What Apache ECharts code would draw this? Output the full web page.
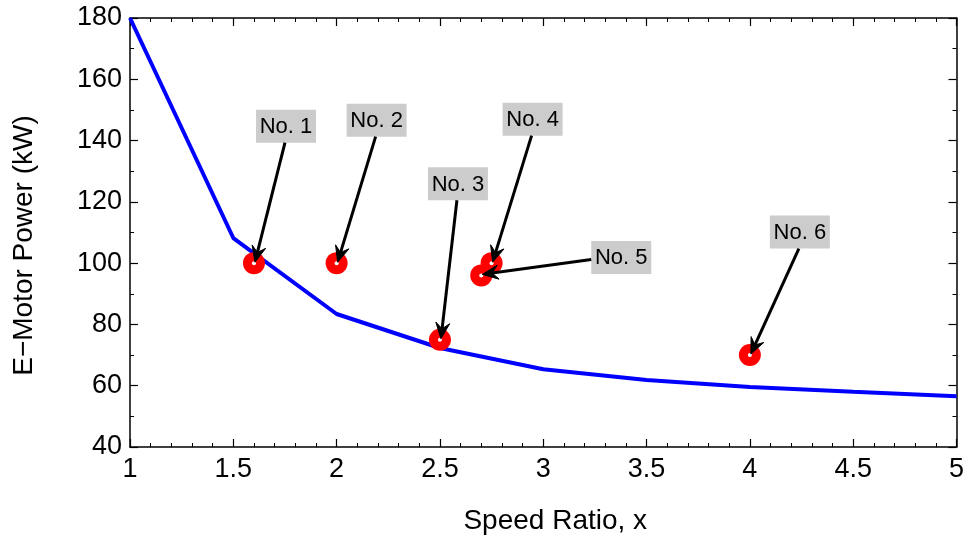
<!DOCTYPE html>
<html>
<head>
<meta charset="utf-8">
<script src="https://cdn.jsdelivr.net/npm/echarts@6/dist/echarts.min.js"></script>
<style>
html,body{margin:0;padding:0;background:#fff;}
#chart{width:967px;height:542px;}
</style>
</head>
<body>
<div id="chart"></div>
<script>
// Curve data
var speedRatio = [1, 1.5, 2, 2.5, 3, 3.5, 4, 4.5, 5];
var motorPower = [180, 108.2, 83.4, 72.3, 65.4, 61.9, 59.6, 58.0, 56.6];

// Design points
var pointNames = ['No. 1', 'No. 2', 'No. 3', 'No. 4', 'No. 5', 'No. 6'];
var pointX = [1.6, 2.0, 2.5, 2.75, 2.7, 4.0];
var pointY = [100, 100, 75, 100, 96, 70];

// Axis ticks
var xTicks = [1, 1.5, 2, 2.5, 3, 3.5, 4, 4.5, 5];
var yTicks = [40, 60, 80, 100, 120, 140, 160, 180];

// Annotation layout (pixel offsets of label centre from point; arrow side)
var labelLayout = [
  {dx: 32, dy: -137, from: 'bottom'},
  {dx: 40, dy: -143, from: 'bottom'},
  {dx: 18, dy: -156, from: 'bottom'},
  {dx: 41, dy: -144, from: 'bottom'},
  {dx: 140, dy: -18, from: 'left'},
  {dx: 50, dy: -123, from: 'bottom'}
];

var FONT = 'Liberation Sans, Arial, Helvetica, sans-serif';
var chart = echarts.init(document.getElementById('chart'), null, {renderer: 'canvas'});

var curve = speedRatio.map(function (x, i) { return [x, motorPower[i]]; });
var pts = pointX.map(function (x, i) { return [x, pointY[i]]; });

var axisLineStyle = {show: true, onZero: false, lineStyle: {color: '#000', width: 1.5}};
var tickStyle = {show: true, inside: true, length: 8, lineStyle: {color: '#000', width: 1.2}};
var minorStyle = {show: true, length: 4, lineStyle: {color: '#000', width: 1}};

var option = {
  animation: false,
  backgroundColor: '#fff',
  grid: {left: 130, right: 10, top: 18, bottom: 95, containLabel: false},
  xAxis: [{
    type: 'value', min: xTicks[0], max: xTicks[xTicks.length - 1], interval: 0.5,
    position: 'bottom',
    axisLine: axisLineStyle, axisTick: tickStyle,
    minorTick: Object.assign({splitNumber: 5}, minorStyle),
    splitLine: {show: false},
    axisLabel: {color: '#000', fontSize: 27, fontFamily: FONT, margin: 9},
    name: 'Speed Ratio, x', nameLocation: 'middle', nameGap: 60,
    nameTextStyle: {color: '#000', fontSize: 28, fontFamily: FONT, padding: [0, 0, 0, 24]}
  }, {
    type: 'value', min: xTicks[0], max: xTicks[xTicks.length - 1], interval: 0.5,
    position: 'top',
    axisLine: axisLineStyle, axisTick: tickStyle,
    minorTick: Object.assign({splitNumber: 5}, minorStyle),
    splitLine: {show: false}, axisLabel: {show: false}
  }],
  yAxis: [{
    type: 'value', min: yTicks[0], max: yTicks[yTicks.length - 1], interval: 20,
    position: 'left',
    axisLine: axisLineStyle, axisTick: tickStyle,
    minorTick: Object.assign({splitNumber: 2}, minorStyle),
    splitLine: {show: false},
    axisLabel: {color: '#000', fontSize: 27, fontFamily: FONT, margin: 8},
    name: 'E\u2212Motor Power (kW)', nameLocation: 'middle', nameGap: 92,
    nameTextStyle: {color: '#000', fontSize: 28, fontFamily: FONT, padding: [0, 26, 0, 0]}
  }, {
    type: 'value', min: yTicks[0], max: yTicks[yTicks.length - 1], interval: 20,
    position: 'right',
    axisLine: axisLineStyle, axisTick: tickStyle,
    minorTick: Object.assign({splitNumber: 2}, minorStyle),
    splitLine: {show: false}, axisLabel: {show: false}
  }],
  series: [{
    type: 'line', data: curve, xAxisIndex: 0, yAxisIndex: 0,
    showSymbol: false, symbol: 'none',
    lineStyle: {color: '#0000ff', width: 4}, z: 2
  }, {
    type: 'scatter', data: pts, xAxisIndex: 0, yAxisIndex: 0,
    symbol: 'circle', symbolSize: 22,
    itemStyle: {color: '#ff0000', opacity: 1}, z: 3
  }, {
    type: 'scatter', data: pts, xAxisIndex: 0, yAxisIndex: 0,
    symbol: 'circle', symbolSize: 4,
    itemStyle: {color: '#ffffff', opacity: 1}, z: 4, silent: true
  }]
};
chart.setOption(option);

// Annotations: labels with grey boxes and arrows pointing to the points
var graphics = [];
var BOX_W = 60, BOX_H = 33;
pts.forEach(function (p, i) {
  var px = chart.convertToPixel({xAxisIndex: 0, yAxisIndex: 0}, p);
  var L = labelLayout[i];
  var cx = px[0] + L.dx, cy = px[1] + L.dy;
  graphics.push({
    type: 'rect', z: 10,
    shape: {x: cx - BOX_W / 2, y: cy - BOX_H / 2, width: BOX_W, height: BOX_H},
    style: {fill: '#cccccc'}
  });
  graphics.push({
    type: 'text', z: 11, x: cx, y: cy + 1,
    style: {text: pointNames[i], fill: '#000', font: '22px ' + FONT, align: 'center', verticalAlign: 'middle'}
  });
  var sx, sy;
  if (L.from === 'left') { sx = cx - BOX_W / 2; sy = cy + 2; }
  else { sx = cx - 1; sy = cy + BOX_H / 2; }
  var tx = px[0] + 1, ty = px[1] - 1;
  var ang = Math.atan2(ty - sy, tx - sx);
  var len = 16, hw = 7, notch = 10;
  var ux = Math.cos(ang), uy = Math.sin(ang), nx = -uy, ny = ux;
  var bx = tx - ux * len, by = ty - uy * len;
  var mx = tx - ux * notch, my = ty - uy * notch;
  graphics.push({
    type: 'line', z: 12,
    shape: {x1: sx, y1: sy, x2: mx, y2: my},
    style: {stroke: '#000', lineWidth: 3}
  });
  graphics.push({
    type: 'polygon', z: 12,
    shape: {points: [[tx, ty], [bx + nx * hw, by + ny * hw], [mx, my], [bx - nx * hw, by - ny * hw]]},
    style: {fill: '#000', stroke: '#000', lineWidth: 1}
  });
});
chart.setOption({graphic: graphics});
</script>
</body>
</html>
